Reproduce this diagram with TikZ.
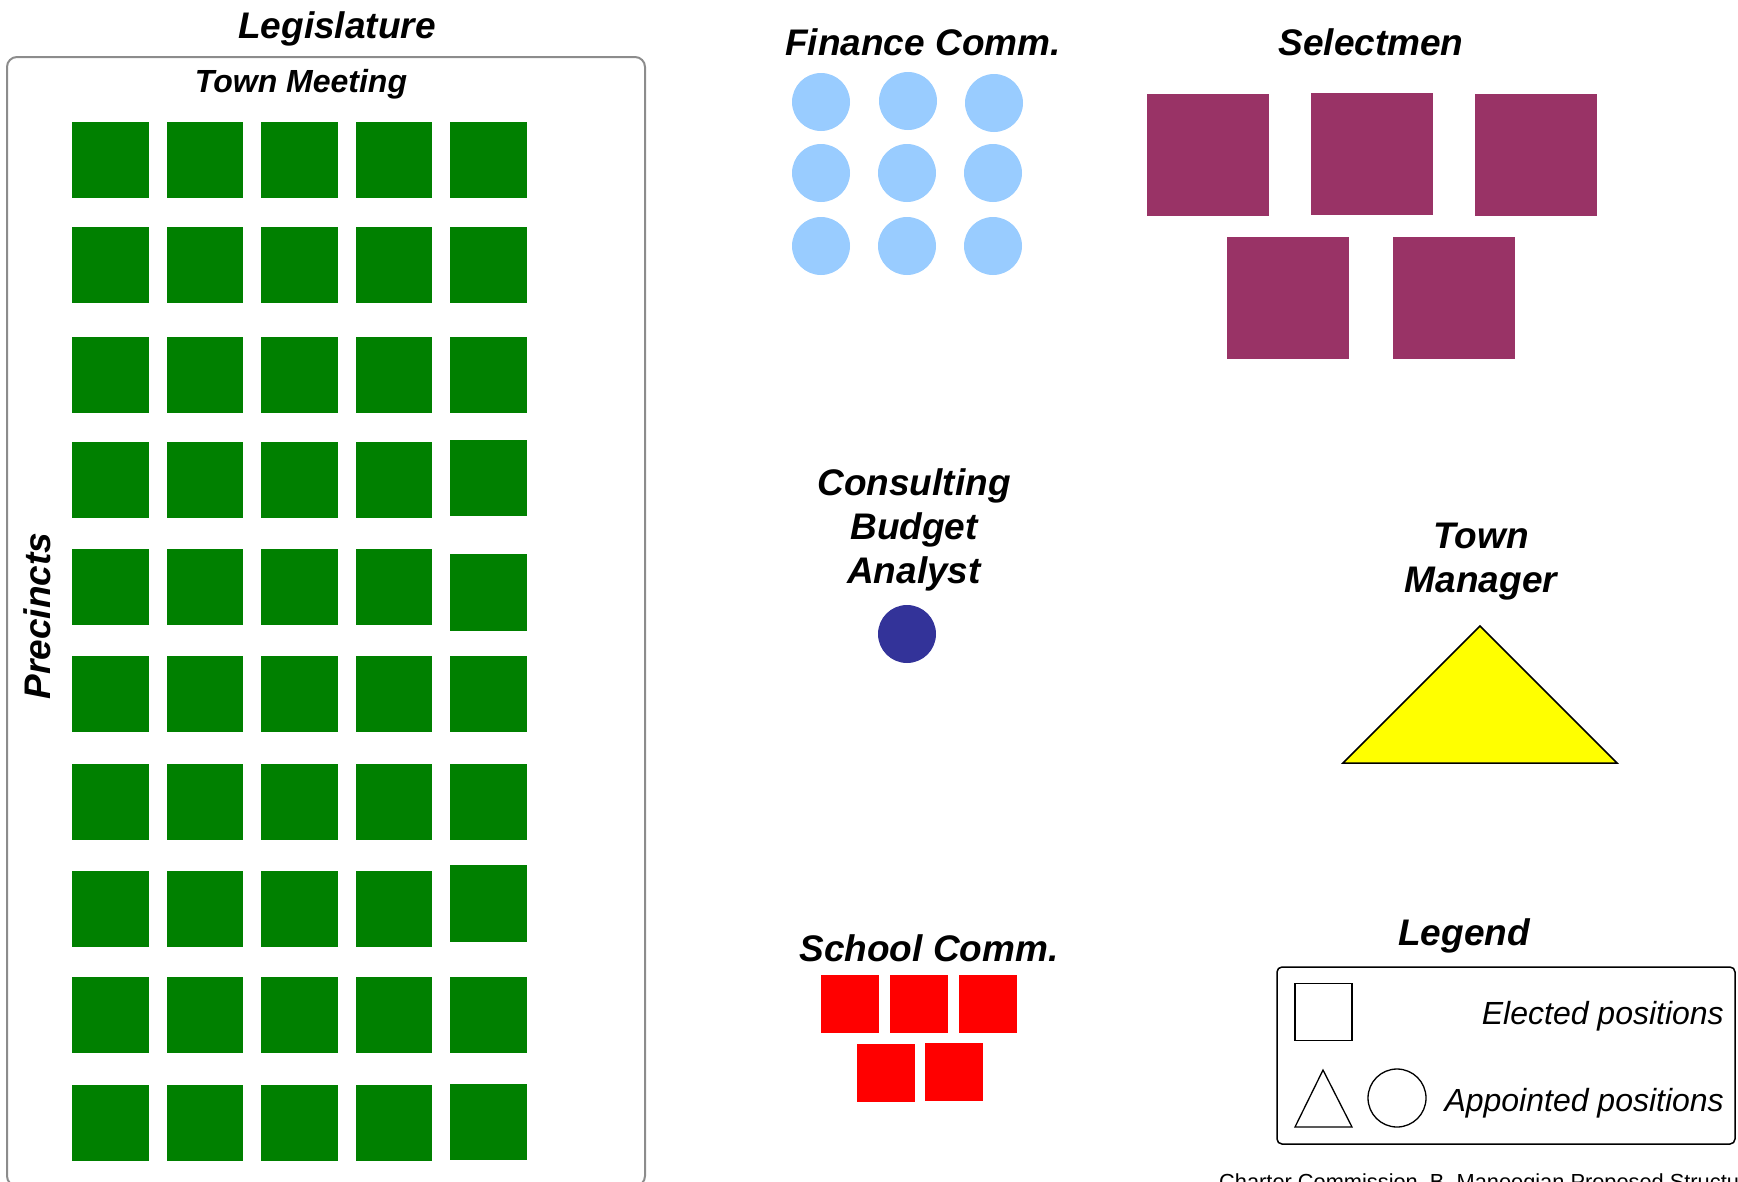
\documentclass[tikz,border=0pt]{standalone}
\usepackage{fontspec}
\setmainfont{Liberation Sans}
\definecolor{tmgreen}{HTML}{008000}
\definecolor{fcblue}{HTML}{99CCFF}
\definecolor{selmaroon}{HTML}{993366}
\definecolor{cbablue}{HTML}{333399}
\definecolor{scred}{HTML}{FF0000}
\definecolor{mgryellow}{HTML}{FFFF00}
\definecolor{boxgray}{HTML}{8C8C8C}

\begin{document}
\begin{tikzpicture}[x=1pt,y=-1pt,
    head/.style={font=\fontsize{37}{44}\selectfont\bfseries\itshape, inner sep=0pt, align=center},
    legtext/.style={font=\fontsize{32}{38}\selectfont\itshape, inner sep=0pt, anchor=east},
    tmseat/.style={rectangle, fill=tmgreen, minimum size=76.5pt, inner sep=0pt},
    fcseat/.style={circle, fill=fcblue, minimum size=58pt, inner sep=0pt},
    selseat/.style={rectangle, fill=selmaroon, minimum size=122pt, inner sep=0pt},
    scseat/.style={rectangle, fill=scred, minimum size=57.6pt, inner sep=0pt},
    legshape/.style={draw=black, line width=1.3pt, inner sep=0pt}]
    \useasboundingbox (0,0) rectangle (1738,1181);

    \node[head] (LEG) at (337,28.5) {Legislature};
    \draw[boxgray, line width=2pt, rounded corners=10pt] (7,57) rectangle (645,1186);
    \node[head, font=\fontsize{32}{38}\selectfont\bfseries\itshape] (TM) at (301,84.5) {Town Meeting};
    \node[head, rotate=90] (PR) at (37,616) {Precincts};

    \foreach \y/\d [count=\r] in {160/0, 265/0, 375/0, 480/-2, 587/5.5, 694/0, 802/0, 909/-5.5, 1015/0, 1123/-1} {
        \foreach \x [count=\c] in {110.3, 204.8, 299.3, 393.8} {
            \node[tmseat] (P\r-\c) at (\x,\y) {};
        }
        \node[tmseat] (P\r-5) at (488.3,\y+\d) {};
    }

    \node[head] (FC) at (923,42) {Finance Comm.};
    \node[fcseat] (F1) at (821,102) {};
    \node[fcseat] (F2) at (908,101) {};
    \node[fcseat] (F3) at (994,103) {};
    \node[fcseat] (F4) at (821,173) {};
    \node[fcseat] (F5) at (907,173) {};
    \node[fcseat] (F6) at (993,173) {};
    \node[fcseat] (F7) at (821,246) {};
    \node[fcseat] (F8) at (907,246) {};
    \node[fcseat] (F9) at (993,246) {};

    \node[head] (SEL) at (1371,42) {Selectmen};
    \node[selseat] (S1) at (1208,155) {};
    \node[selseat] (S2) at (1372,154) {};
    \node[selseat] (S3) at (1536,155) {};
    \node[selseat] (S4) at (1288,298) {};
    \node[selseat] (S5) at (1454,298) {};

    \node[head] (CBA) at (914,529.5) {Consulting\\Budget\\Analyst};
    \node[circle, fill=cbablue, minimum size=58pt, inner sep=0pt] (B) at (907,634) {};

    \node[head] (MGR) at (1481,562) {Town\\Manager};
    \coordinate (M1) at (1480,626);
    \coordinate (M2) at (1343,763);
    \coordinate (M3) at (1617,763);
    \filldraw[fill=mgryellow, draw=black, line width=1.5pt] (M1) -- (M2) -- (M3) -- cycle;

    \node[head] (SC) at (929,948) {School Comm.};
    \node[scseat] (C1) at (850,1004) {};
    \node[scseat] (C2) at (919,1004) {};
    \node[scseat] (C3) at (988,1004) {};
    \node[scseat] (C4) at (886,1073) {};
    \node[scseat] (C5) at (954,1072) {};

    \node[head] (LG) at (1464,935.5) {Legend};
    \draw[black, line width=1.5pt, rounded corners=5pt] (1277,967) rectangle (1735,1144);
    \node[legshape, rectangle, minimum size=57pt] (LE) at (1323.5,1012) {};
    \coordinate (L1) at (1323,1070);
    \coordinate (L2) at (1295,1127);
    \coordinate (L3) at (1352,1127);
    \draw[black, line width=1.3pt] (L1) -- (L2) -- (L3) -- cycle;
    \node[legshape, circle, minimum size=58pt] (LA) at (1397,1098) {};
    \node[legtext] (ELT) at (1724,1016.5) {Elected positions};
    \node[legtext] (APT) at (1724,1103.5) {Appointed positions};

    \node[anchor=base west, inner sep=0pt, font=\fontsize{21.8}{26}\selectfont] (FOOT) at (1219,1189) {Charter Commission\ \ B. Manoogian Proposed Structure};
\end{tikzpicture}
\end{document}
